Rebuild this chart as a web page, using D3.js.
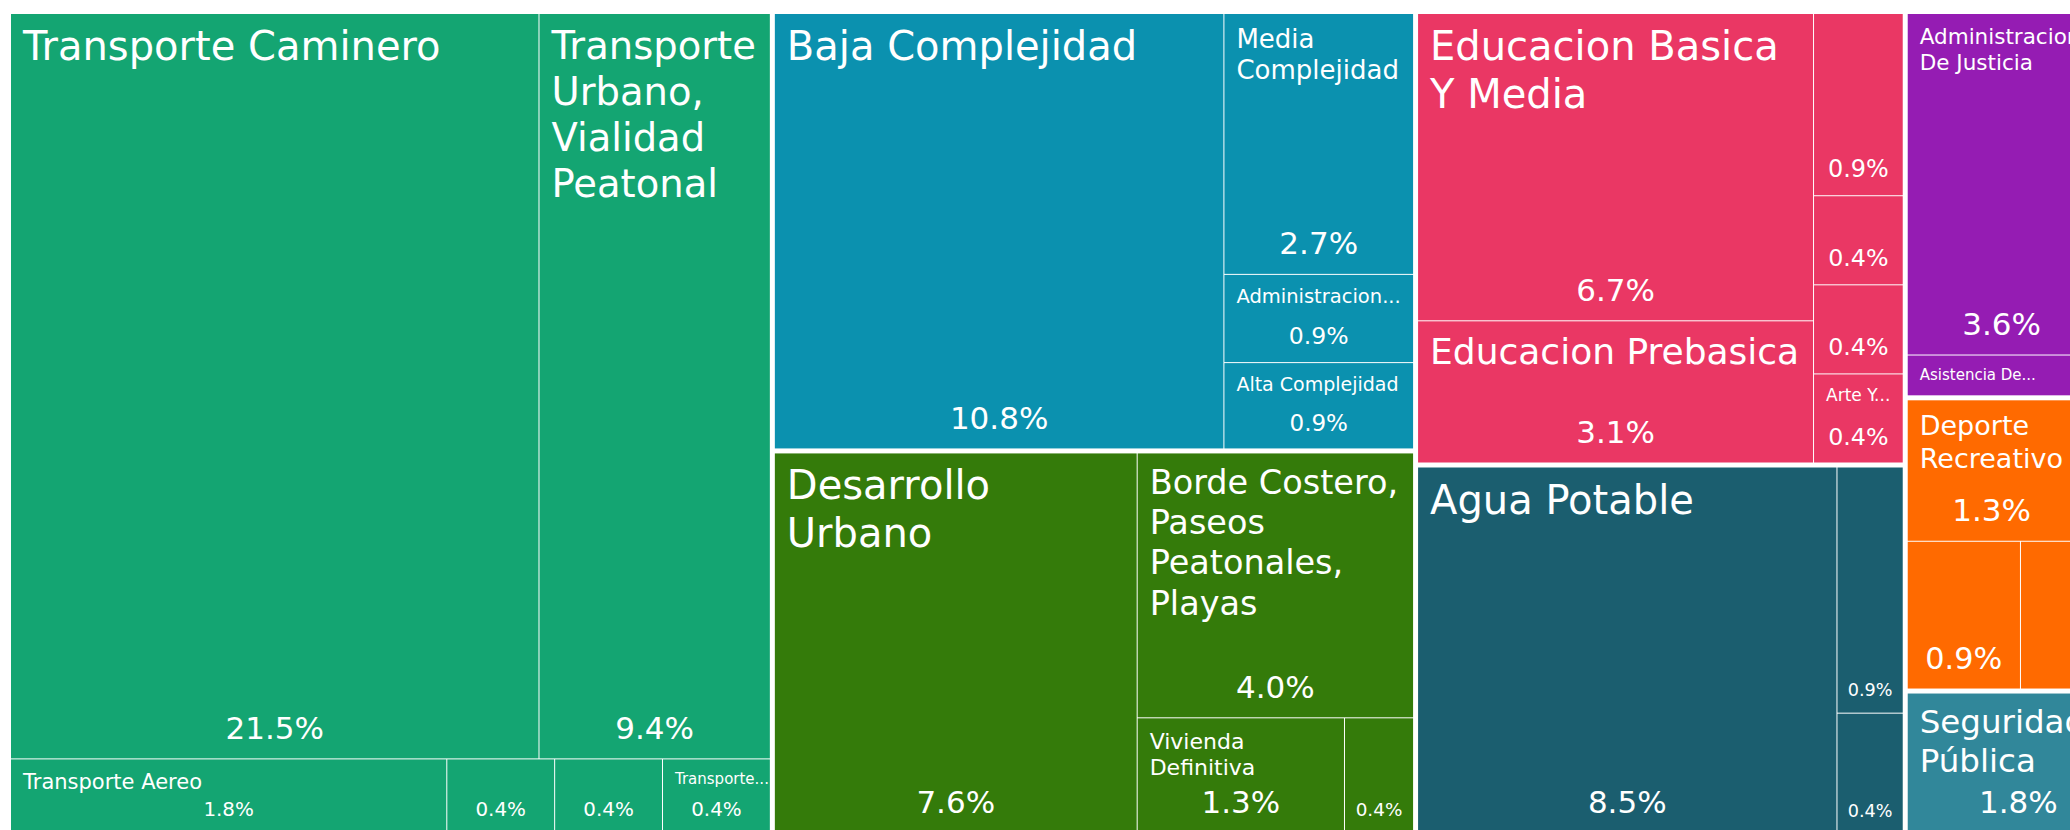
<!DOCTYPE html>
<html>
<head>
<meta charset="utf-8">
<title>Treemap - Inversion por sector</title>
<script src="https://d3js.org/d3.v7.min.js"></script>
<style>
body { margin: 0; background: #fff; }
#map text { font-family: "DejaVu Sans", sans-serif; fill: #fff; }
</style>
</head>
<body>
<div id="map"></div>

<script type="text/javascript">

// values are shares of the total (in %)
// labels left "" are cells that show no name in the chart
var transporteLabels = ["Transporte Caminero", "Transporte Urbano, Vialidad Peatonal", "Transporte Aereo", "", "", "Transporte..."];
var transporteValues = [21.54, 9.43, 1.78, 0.44, 0.44, 0.44];

var saludLabels = ["Baja Complejidad", "Media Complejidad", "Administracion...", "Alta Complejidad"];
var saludValues = [10.76, 2.72, 0.92, 0.90];

var desarrolloLabels = ["Desarrollo Urbano", "Borde Costero, Paseos Peatonales, Playas", "Vivienda Definitiva", ""];
var desarrolloValues = [7.60, 4.03, 1.32, 0.44];

var educacionLabels = ["Educacion Basica Y Media", "Educacion Prebasica", "", "", "", "Arte Y..."];
var educacionValues = [6.70, 3.10, 0.90, 0.44, 0.44, 0.44];

var aguaLabels = ["Agua Potable", "", ""];
var aguaValues = [8.48, 0.90, 0.44];

var justiciaLabels = ["Administracion De Justicia", "Asistencia De..."];
var justiciaValues = [3.60, 0.43];

var deporteLabels = ["Deporte Recreativo", "", ""];
var deporteValues = [1.34, 0.94, 0.46];

var seguridadLabels = ["Seguridad Pública"];
var seguridadValues = [1.77];

// sectors cut off by the right edge of the picture
var otrosLabels = ["", "", ""];
var otrosValues = [3.19, 2.74, 0.93];

var sectorNames  = ["Transporte", "Salud", "Desarrollo", "Educacion", "Agua", "Justicia", "Otros 1", "Deporte", "Otros 2", "Seguridad", "Otros 3"];
var sectorColors = ["#14a572", "#0b91af", "#347b0a", "#ea3764", "#1b5e6f", "#951cb3", "#888888", "#ff6a00", "#888888", "#31879a", "#888888"];

function leaves(labels, values) {
	return labels.map(function(l, i) { return {name: l, value: values[i]}; });
}

var sectorLeaves = [
	leaves(transporteLabels, transporteValues),
	leaves(saludLabels, saludValues),
	leaves(desarrolloLabels, desarrolloValues),
	leaves(educacionLabels, educacionValues),
	leaves(aguaLabels, aguaValues),
	leaves(justiciaLabels, justiciaValues),
	leaves([otrosLabels[0]], [otrosValues[0]]),
	leaves(deporteLabels, deporteValues),
	leaves([otrosLabels[1]], [otrosValues[1]]),
	leaves(seguridadLabels, seguridadValues),
	leaves([otrosLabels[2]], [otrosValues[2]])
];

var data = {name: "root", children: sectorNames.map(function(n, i) {
	return {name: n, color: sectorColors[i], children: sectorLeaves[i]};
})};

var width = 2070;
var height = 830;
// the map is wider than the window, its right part is cut off
var mapW = 2237;
var mapH = 819;
var offsetX = 11, offsetY = 14;
var pad = 12;

var svg = d3.select("#map").append("svg").attr("width", width).attr("height", height);
var g = svg.append("g").attr("transform", "translate(" + offsetX + "," + offsetY + ")");

var root = d3.hierarchy(data)
	.sum(function(d) { return d.children ? 0 : d.value; })
	.sort(function(a, b) { return b.value - a.value; });

d3.treemap()
	.tile(d3.treemapSquarify)
	.size([mapW, mapH])
	.paddingInner(function(d) { return d.depth === 0 ? 5 : 1; })(root);

var total = root.value;
var fmt = d3.format(".1%");

var ctx = document.createElement("canvas").getContext("2d");
function textWidth(s, fs) {
	ctx.font = fs + 'px "DejaVu Sans"';
	return ctx.measureText(s).width;
}

function wrap(words, fs, maxW) {
	var lines = [], cur = "";
	for (var i = 0; i < words.length; i++) {
		if (textWidth(words[i], fs) > maxW) return null;
		var t = cur ? cur + " " + words[i] : words[i];
		if (textWidth(t, fs) <= maxW) cur = t;
		else { lines.push(cur); cur = words[i]; }
	}
	if (cur) lines.push(cur);
	return lines;
}

// biggest font (40 down to 15) at which the wrapped name fits above the percent
function fitLabel(name, w, h, pctH) {
	if (!name) return null;
	var words = name.split(" ");
	var maxW = w - 2 * pad, maxH = h - 2 * pad - pctH;
	for (var fs = 40; fs >= 15; fs -= 0.5) {
		var lines = wrap(words, fs, maxW);
		if (lines && lines.length * fs * 1.2 <= maxH) return {fs: fs, lines: lines};
	}
	return {fs: 15, lines: [name]};
}

var cells = g.selectAll("g.cell").data(root.leaves()).enter()
	.append("g").attr("class", "cell");

cells.append("clipPath").attr("id", function(d, i) { return "clip" + i; })
	.append("rect")
	.attr("x", function(d) { return d.x0; })
	.attr("y", function(d) { return d.y0; })
	.attr("width", function(d) { return d.x1 - d.x0; })
	.attr("height", function(d) { return d.y1 - d.y0; });

cells.append("rect")
	.attr("x", function(d) { return d.x0; })
	.attr("y", function(d) { return d.y0; })
	.attr("width", function(d) { return d.x1 - d.x0; })
	.attr("height", function(d) { return d.y1 - d.y0; })
	.attr("fill", function(d) { return d.parent.data.color; });

cells.each(function(d, i) {
	var w = d.x1 - d.x0, h = d.y1 - d.y0;
	var cell = d3.select(this).append("g").attr("clip-path", "url(#clip" + i + ")");

	var pctFs = Math.min(31, 0.27 * Math.min(w, h));
	var showPct = pctFs >= 16;
	if (showPct) {
		cell.append("text")
			.attr("x", (d.x0 + d.x1) / 2)
			.attr("y", d.y1 - pad - 0.25 * pctFs)
			.attr("text-anchor", "middle")
			.style("font-size", pctFs + "px")
			.text(fmt(d.value / total));
	}

	var lab = fitLabel(d.data.name, w, h, showPct ? pctFs * 1.2 : 0);
	if (lab) {
		var t = cell.append("text").style("font-size", lab.fs + "px");
		lab.lines.forEach(function(line, k) {
			t.append("tspan")
				.attr("x", d.x0 + pad)
				.attr("y", d.y0 + pad + 0.85 * lab.fs + k * 1.2 * lab.fs)
				.text(line);
		});
	}
});

</script>
</body>
</html>
